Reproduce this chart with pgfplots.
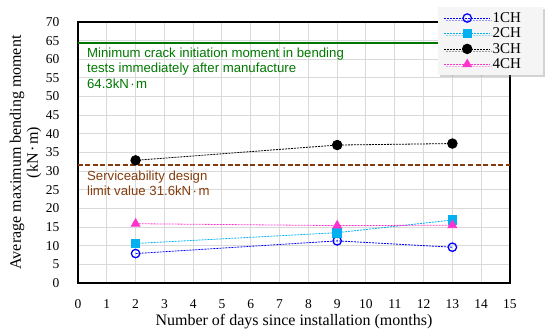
\documentclass[border=0pt]{standalone}
\usepackage{pgfplots}
\pgfplotsset{compat=1.18}
\usepackage{fontspec}
\setmainfont{Liberation Serif}
\newfontfamily\annot{Liberation Sans}
\usetikzlibrary{shadows}
\definecolor{c1}{RGB}{0,0,255}
\definecolor{c2}{RGB}{0,176,240}
\definecolor{c3}{RGB}{0,0,0}
\definecolor{c4}{RGB}{255,51,204}
\definecolor{cgreen}{RGB}{0,120,0}
\definecolor{cbrown}{RGB}{132,60,12}
\definecolor{cgrid}{RGB}{217,217,217}
\newcommand{\md}{\makebox[0.55em]{·}}
\begin{document}
\begin{tikzpicture}
\begin{axis}[
  scale only axis, width=432pt, height=261pt,
  xmin=0, xmax=15, ymin=0, ymax=70,
  xtick={0,...,15}, ytick={0,5,...,70},
  xticklabels={0,1,2,3,4,5,6,7,8,9,10,11,12,13,14,15},
  yticklabels={0,5,10,15,20,25,30,35,40,45,50,55,60,65,70},
  major tick length=0pt,
  grid=major, grid style={cgrid, line width=1pt},
  axis line style={black, line width=1.3pt},
  ticklabel style={font=\rmfamily\fontsize{13.5}{16}\selectfont},
  yticklabel style={xshift=-15pt},
  xticklabel style={yshift=-13pt},
  xlabel={Number of days since installation (months)},
  xlabel style={font=\fontsize{16}{18}\selectfont, yshift=1pt},
  ylabel={\begin{tabular}{c}Average maximum bending moment\\(kN\md m)\end{tabular}},
  ylabel style={font=\fontsize{16}{17}\selectfont, yshift=-4pt},
  legend style={at={(1.076,1.057)}, anchor=north east, fill=gray!8, draw=none,
    drop shadow={shadow xshift=2pt, shadow yshift=-2pt, opacity=0.35},
    font=\fontsize{15}{18}\selectfont, row sep=0pt, inner xsep=6pt, inner ysep=3pt,
    cells={anchor=west}},
  legend image code/.code={\draw[mark repeat=2,mark phase=2] plot coordinates {(0pt,0pt) (23pt,0pt) (46pt,0pt)};},
  every axis plot/.append style={line width=0.8pt, dash pattern=on 2pt off 1pt},
]
\addplot[draw=cgreen, solid, line width=1.6pt, forget plot] coordinates {(0,64.3) (15,64.3)};
\addplot[draw=cbrown, line width=1.6pt, dash pattern=on 5pt off 2.5pt, forget plot] coordinates {(0,31.6) (15,31.6)};
\addplot[c1, mark=o, mark size=4.2pt, mark options={solid, line width=1.3pt, fill=white}] coordinates {(2,7.9) (9,11.3) (13,9.6)};
\addlegendentry{\makebox[42pt][l]{1CH}}
\addplot[c2, mark=square*, mark size=4.3pt, mark options={solid}] coordinates {(2,10.6) (9,13.5) (13,16.9)};
\addlegendentry{\makebox[42pt][l]{2CH}}
\addplot[c3, mark=*, mark size=4.8pt, mark options={solid}] coordinates {(2,32.9) (9,37.0) (13,37.4)};
\addlegendentry{\makebox[42pt][l]{3CH}}
\addplot[c4, mark=triangle*, mark size=5pt, mark options={solid}] coordinates {(2,15.9) (9,15.4) (13,15.5)};
\addlegendentry{\makebox[42pt][l]{4CH}}
\node[anchor=north west, align=left, text=cgreen, font=\annot\fontsize{13.2}{15.5}\selectfont, inner sep=0pt]
  at (axis cs:0.31,63.1) {Minimum crack initiation moment in bending\\tests immediately after manufacture\\64.3kN\md m};
\node[anchor=north west, align=left, text=cbrown, font=\annot\fontsize{13.2}{15}\selectfont, inner sep=0pt]
  at (axis cs:0.31,30.2) {Serviceability design\\limit value 31.6kN\md m};
\end{axis}
\pgfresetboundingbox
\useasboundingbox (-78pt,-52pt) rectangle (472pt,283pt);
\end{tikzpicture}
\end{document}
